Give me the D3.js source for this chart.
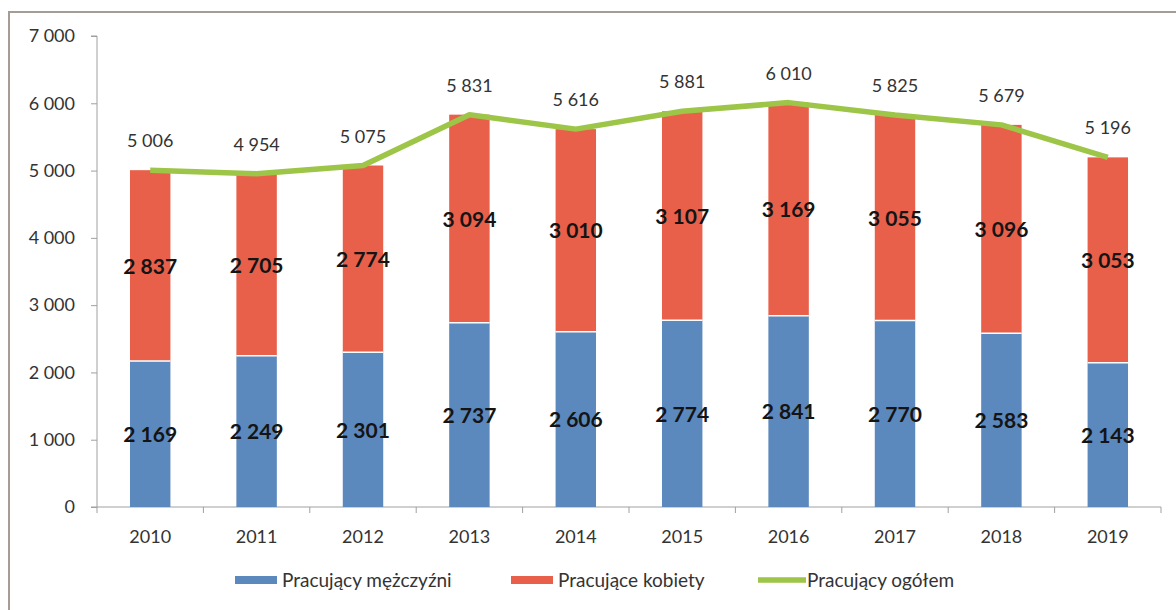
<!DOCTYPE html>
<meta charset="utf-8">
<style>
body { margin: 0; background: #fff; }
text { font-family: Lato, "Open Sans", sans-serif; fill: #222; }
.axis text { font-size: 18px; fill: #333; font-family: Lato, sans-serif; }
.axis path, .axis line { stroke: #a0a0a0; }
.inlbl { font-size: 21px; font-weight: bold; fill: #141414; }
.totlbl { font-size: 18px; fill: #333; }
.legend text { font-size: 19px; fill: #333; }
</style>
<svg width="1176" height="610"></svg>
<script src="https://d3js.org/d3.v7.min.js"></script>
<script>

var years = ["2010","2011","2012","2013","2014","2015","2016","2017","2018","2019"];
var men   = [2169, 2249, 2301, 2737, 2606, 2774, 2841, 2770, 2583, 2143];
var women = [2837, 2705, 2774, 3094, 3010, 3107, 3169, 3055, 3096, 3053];
var total = [5006, 4954, 5075, 5831, 5616, 5881, 6010, 5825, 5679, 5196];
var yTicks = [0, 1000, 2000, 3000, 4000, 5000, 6000, 7000];
var seriesNames = ["Pracujący mężczyźni", "Pracujące kobiety", "Pracujący ogółem"];

var svg = d3.select("svg");

// frame round the chart
svg.append("rect")
    .attr("x", 9).attr("y", 12)
    .attr("width", 1180).attr("height", 620)
    .attr("fill", "none")
    .attr("stroke", "#a59d95")
    .attr("stroke-width", 2);

var fmt = function(v) {
  return d3.format(",")(v).replace(/,/g, " ");
};

var x = d3.scaleBand()
    .domain(years)
    .range([97, 1161])
    .paddingInner(0.62)
    .paddingOuter(0.31);

var y = d3.scaleLinear()
    .domain([0, 7000])
    .range([507, 36]);

var blue = "#5b88bd", red = "#e8604a", green = "#9dc547";

// axes
svg.append("g")
    .attr("class", "axis")
    .attr("transform", "translate(97,0)")
    .call(d3.axisLeft(y).tickValues(yTicks).tickSize(6).tickPadding(16).tickFormat(fmt))
    .call(function(g) { g.select(".domain").attr("d", "M-6,36H0V507H-6"); });

var xStep = x.step();
var xAxis = svg.append("g")
    .attr("class", "axis")
    .attr("transform", "translate(0," + y(0) + ")");
xAxis.append("line")
    .attr("x1", 97).attr("x2", 1161)
    .attr("stroke", "#a0a0a0");
xAxis.selectAll(".tk")
    .data(d3.range(years.length + 1))
    .enter().append("line")
    .attr("x1", function(i) { return 97 + i * xStep; })
    .attr("x2", function(i) { return 97 + i * xStep; })
    .attr("y1", 0).attr("y2", 6)
    .attr("stroke", "#a0a0a0");
xAxis.selectAll("text")
    .data(years)
    .enter().append("text")
    .attr("x", function(d) { return x(d) + x.bandwidth() / 2; })
    .attr("y", 36)
    .attr("text-anchor", "middle")
    .text(function(d) { return d; });

// bars
var g = svg.append("g");
years.forEach(function(yr, i) {
  g.append("rect")
    .attr("x", x(yr)).attr("width", x.bandwidth())
    .attr("y", y(men[i])).attr("height", y(0) - y(men[i]))
    .attr("fill", blue);
  g.append("rect")
    .attr("x", x(yr)).attr("width", x.bandwidth())
    .attr("y", y(men[i] + women[i])).attr("height", y(men[i]) - y(men[i] + women[i]))
    .attr("fill", red);
  g.append("line")
    .attr("x1", x(yr)).attr("x2", x(yr) + x.bandwidth())
    .attr("y1", y(men[i])).attr("y2", y(men[i]))
    .attr("stroke", "#fff").attr("stroke-width", 1.5);
});

// line of totals
var cx = function(i) { return x(years[i]) + x.bandwidth() / 2; };
var line = d3.line()
    .x(function(d, i) { return cx(i); })
    .y(function(d) { return y(d); });
svg.append("path")
    .datum(total)
    .attr("d", line)
    .attr("fill", "none")
    .attr("stroke", green)
    .attr("stroke-width", 5.5)
    .attr("stroke-linejoin", "round");

// labels
svg.selectAll(".menlbl")
    .data(men)
    .enter().append("text")
    .attr("class", "inlbl")
    .attr("x", function(d, i) { return cx(i); })
    .attr("y", function(d) { return y(d / 2) + 8; })
    .attr("text-anchor", "middle")
    .text(fmt);
svg.selectAll(".womlbl")
    .data(women)
    .enter().append("text")
    .attr("class", "inlbl")
    .attr("x", function(d, i) { return cx(i); })
    .attr("y", function(d, i) { return y(men[i] + d / 2) + 8; })
    .attr("text-anchor", "middle")
    .text(fmt);
svg.selectAll(".totlbl")
    .data(total)
    .enter().append("text")
    .attr("class", "totlbl")
    .attr("x", function(d, i) { return cx(i); })
    .attr("y", function(d) { return y(d) - 23; })
    .attr("text-anchor", "middle")
    .text(fmt);

// legend
var legend = svg.append("g").attr("class", "legend");
var items = [
  { name: seriesNames[0], color: blue, x: 235, type: "rect" },
  { name: seriesNames[1], color: red, x: 511, type: "rect" },
  { name: seriesNames[2], color: green, x: 758, type: "line" }
];
items.forEach(function(it) {
  if (it.type === "rect") {
    legend.append("rect")
      .attr("x", it.x).attr("y", 576)
      .attr("width", 42).attr("height", 8)
      .attr("fill", it.color);
  } else {
    legend.append("line")
      .attr("x1", it.x).attr("x2", it.x + 48)
      .attr("y1", 580).attr("y2", 580)
      .attr("stroke", it.color).attr("stroke-width", 5.5);
  }
  legend.append("text")
    .attr("x", it.x + (it.type === "rect" ? 47 : 49))
    .attr("y", 587)
    .text(it.name);
});

</script>
